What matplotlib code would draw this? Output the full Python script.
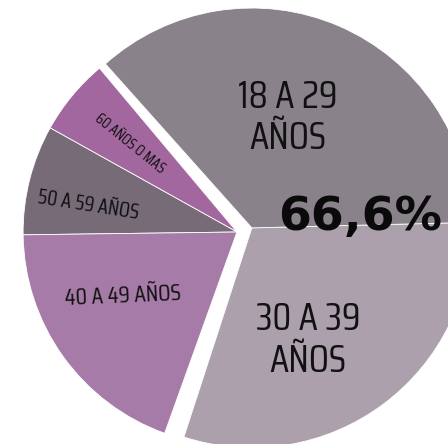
import matplotlib
matplotlib.use("Agg")
import matplotlib.pyplot as plt

# age groups: two blocks drawn as separate pies so the big block can sit apart
left_labels = ["60 AÑOS O MAS", "50 A 59 AÑOS", "40 A 49 AÑOS"]
left_values = [5.8, 8.3, 19.3]
left_colors = ["#a3679f", "#776b78", "#a67ba8"]

right_labels = ["30 A 39\nAÑOS", "18 A 29\nAÑOS"]
right_values = [30.4, 36.2]
right_colors = ["#aba0ac", "#8a828b"]

highlight = "66,6%"

LABEL_FONT = ["Saira Condensed", "DejaVu Sans"]
BIG_FONT = ["DejaVu Sans"]
TXT = "#111111"

fig = plt.figure(figsize=(4.48, 4.44), dpi=100)
ax = fig.add_axes([0, 0, 1, 1])

wedge_kw = dict(edgecolor="white", linewidth=0.6)
ax.pie([v / 100 for v in left_values], colors=left_colors, startangle=130,
       normalize=False, radius=0.99, center=(0, 0), wedgeprops=wedge_kw)
ax.pie([v / 100 for v in right_values], colors=right_colors, startangle=252,
       normalize=False, radius=1.018, center=(0.069, 0.019), wedgeprops=wedge_kw)

ax.set_xlim(-1.097, 0.977)
ax.set_ylim(-0.9815, 1.0741)
ax.set_aspect("auto")
ax.axis("off")

# labels of the small block
ax.text(-0.495, 0.407, left_labels[0], rotation=-39, fontsize=11,
        family=LABEL_FONT, color=TXT, ha="center", va="center")
ax.text(-0.69, 0.125, left_labels[1], rotation=-9, fontsize=15,
        family=LABEL_FONT, color=TXT, ha="center", va="center")
ax.text(-0.528, -0.296, left_labels[2], rotation=2.5, fontsize=17,
        family=LABEL_FONT, color=TXT, ha="center", va="center")

# labels of the big block
ax.text(0.329, -0.50, right_labels[0], fontsize=28, family=LABEL_FONT,
        color=TXT, ha="center", va="center", linespacing=1.2)
ax.text(0.236, 0.53, right_labels[1], fontsize=28, family=LABEL_FONT,
        color=TXT, ha="center", va="center", linespacing=1.2)

ax.text(0.569, 0.009, highlight, fontsize=34, fontweight="bold",
        family=BIG_FONT, color="#0a0a0a", ha="center", va="baseline")

fig.savefig("out.png", dpi=100)
